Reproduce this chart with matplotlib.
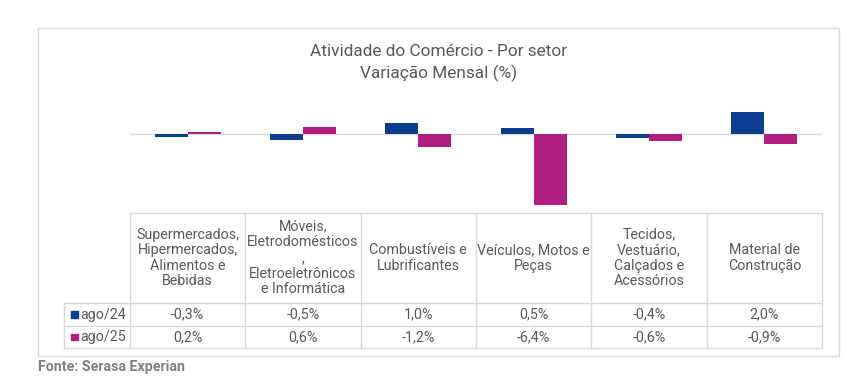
import matplotlib
matplotlib.use("Agg")
import matplotlib.pyplot as plt
import numpy as np

plt.rcParams['font.family'] = ['Roboto', 'DejaVu Sans']

# data
setores = ["Supermercados,\nHipermercados,\nAlimentos e\nBebidas",
           "Móveis,\nEletrodomésticos\n,\nEletroeletrônicos\ne Informática",
           "Combustíveis e\nLubrificantes",
           "Veículos, Motos e\nPeças",
           "Tecidos,\nVestuário,\nCalçados e\nAcessórios",
           "Material de\nConstrução"]
series = ["ago/24", "ago/25"]
ago24 = [-0.3, -0.5, 1.0, 0.5, -0.4, 2.0]
ago25 = [0.2, 0.6, -1.2, -6.4, -0.6, -0.9]
cores = ["#0B3D8F", "#B01F81"]

W, H = 852, 385
fig = plt.figure(figsize=(W / 100, H / 100), dpi=100)

def px_axes(x, y, w, h):
    return fig.add_axes([x / W, 1 - (y + h) / H, w / W, h / H])

# overlay in pixel coords for box, table and texts
ov = px_axes(0, 0, W, H)
ov.set_xlim(0, W)
ov.set_ylim(H, 0)
ov.axis("off")

grid = "#D9D9D9"
txt = "#595959"
fs = 10.3

# chart box
ov.add_patch(plt.Rectangle((38, 28), 801, 328, fill=False, ec=grid, lw=1))

ov.text(438.5, 52, "Atividade do Comércio - Por setor", ha="center", va="center",
        fontsize=12.4, color=txt)
ov.text(438.5, 73, "Variação Mensal (%)", ha="center", va="center",
        fontsize=12.4, color=txt)

# bars
left, right = 130, 822
ax = px_axes(left, 88, right - left, 124)
n = len(setores)
x = np.arange(n)
bw = 0.286
ax.bar(x - bw / 2, ago24, bw, color=cores[0])
ax.bar(x + bw / 2, ago25, bw, color=cores[1])
ax.axhline(0, color=grid, lw=1, zorder=0)
ax.set_xlim(-0.5, n - 0.5)
ax.set_ylim(-(212 - 134) / 11.1, (134 - 88) / 11.1)
ax.axis("off")

# data table
colw = (right - left) / n
edges = [left + i * colw for i in range(n + 1)]
top, hdr, r1, r2 = 213, 303, 326, 348
leg_x = 64
ov.plot([left, right], [top, top], color=grid, lw=1)
for yy in (hdr, r1, r2):
    ov.plot([leg_x, right], [yy, yy], color=grid, lw=1)
ov.plot([leg_x, leg_x], [hdr, r2], color=grid, lw=1)
for e in edges:
    ov.plot([e, e], [top, r2], color=grid, lw=1)

for i, s in enumerate(setores):
    cx = (edges[i] + edges[i + 1]) / 2
    ov.text(cx, (top + hdr) / 2, s, ha="center", va="center", fontsize=fs,
            color=txt, linespacing=1.15)

def fmt(v):
    return ("%.1f%%" % v).replace(".", ",")

for vals, yy0, yy1, lab, c in ((ago24, hdr, r1, series[0], cores[0]),
                               (ago25, r1, r2, series[1], cores[1])):
    cy = (yy0 + yy1) / 2
    ov.add_patch(plt.Rectangle((71, cy - 3.5), 6.5, 6.5, color=c))
    ov.text(80, cy, lab, ha="left", va="center", fontsize=fs, color=txt)
    for i, v in enumerate(vals):
        cx = (edges[i] + edges[i + 1]) / 2
        ov.text(cx, cy, fmt(v), ha="center", va="center", fontsize=fs, color=txt)

ov.text(38, 367, "Fonte: Serasa Experian", ha="left", va="center",
        fontsize=10.2, fontweight="bold", color="#7F7F7F")

fig.savefig("out.png", dpi=100)
